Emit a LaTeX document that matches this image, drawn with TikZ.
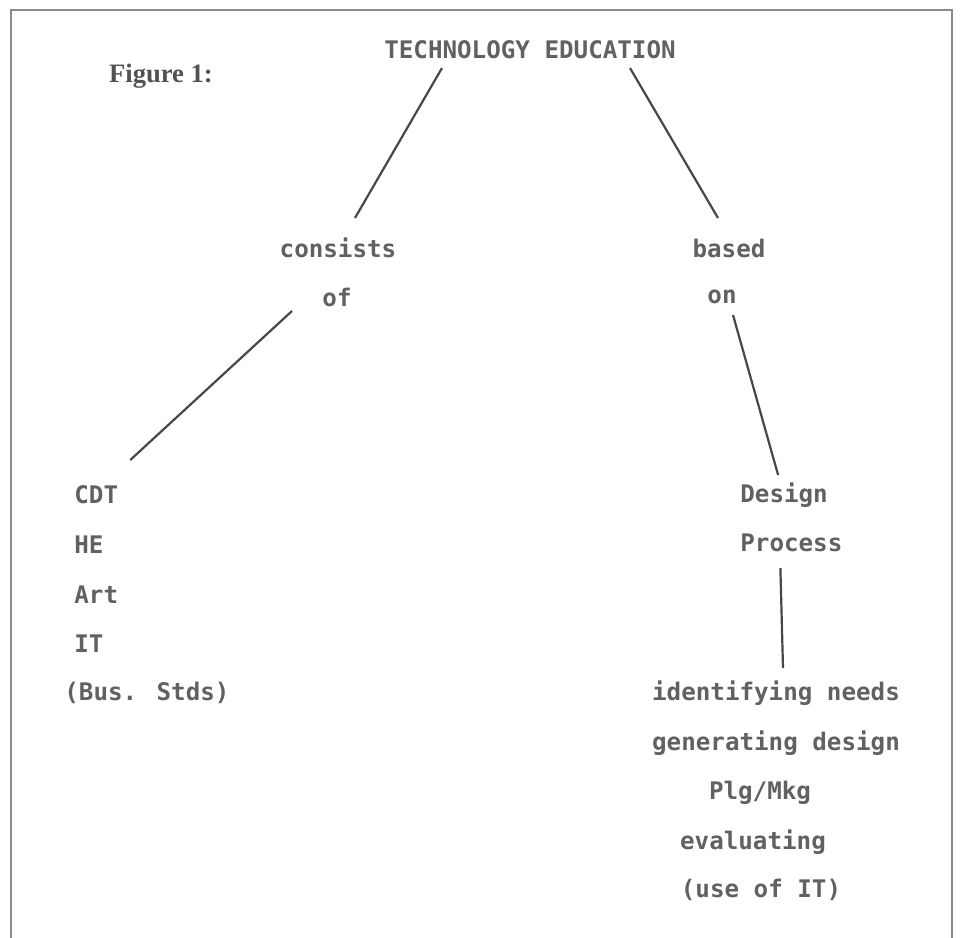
\documentclass[tikz,border=0pt]{standalone}
\usepackage{fontspec}
\newfontfamily\dotfont{DejaVu Sans Mono}
\newfontfamily\capfont{Liberation Serif}
\begin{document}
\begin{tikzpicture}[x=0.5pt,y=-0.5pt,
  lbl/.style={font=\dotfont\bfseries\fontsize{12.1}{14}\selectfont, text=black!62, inner sep=1pt},
  link/.style={draw=black!72, line width=1.1pt}]
  \useasboundingbox (0,0) rectangle (960,938);
  \draw[black!45, line width=1.3pt] (11,938) -- (11,10) -- (952,10) -- (952,938);
  \node[font=\capfont\bfseries\fontsize{13.3}{15}\selectfont, text=black!68] (fig) at (161,76) {Figure 1:};
  \node[lbl] (te) at (530,50) {TECHNOLOGY EDUCATION};
  \node[lbl] (cons) at (338,248) {consists};
  \node[lbl] (of) at (337,297) {of};
  \node[lbl] (based) at (729,248) {based};
  \node[lbl] (on) at (722,297) {on};
  % left column
  \node[lbl, anchor=west] (cdt) at (72,495) {CDT};
  \node[lbl, anchor=west] (he) at (72,545) {HE};
  \node[lbl, anchor=west] (art) at (72,595) {Art};
  \node[lbl, anchor=west] (it) at (72,644) {IT};
  \node[lbl, anchor=west] (bus) at (62,693) {(Bus. Stds)};
  % right column
  \node[lbl, anchor=west] (design) at (738,495) {Design};
  \node[lbl, anchor=west] (process) at (738,543) {Process};
  \node[lbl] (ident) at (776,693) {identifying needs};
  \node[lbl] (gen) at (776,743) {generating design};
  \node[lbl] (plg) at (760,793) {Plg/Mkg};
  \node[lbl] (eval) at (753,842) {evaluating};
  \node[lbl] (useit) at (761,890) {(use of IT)};
  % connectors
  \draw[link] ([shift={(-88,18)}]te.center) -- ([shift={(17,-30)}]cons.center);
  \draw[link] ([shift={(100,18)}]te.center) -- ([shift={(-11,-30)}]based.center);
  \draw[link] ([shift={(-45,14)}]of.center) -- ([shift={(34,-35)}]cdt.center);
  \draw[link] ([shift={(11,18)}]on.center) -- ([shift={(-6,-20)}]design.center);
  \draw[link] ([shift={(-11,25)}]process.center) -- ([shift={(7,-25)}]ident.center);
\end{tikzpicture}
\end{document}
